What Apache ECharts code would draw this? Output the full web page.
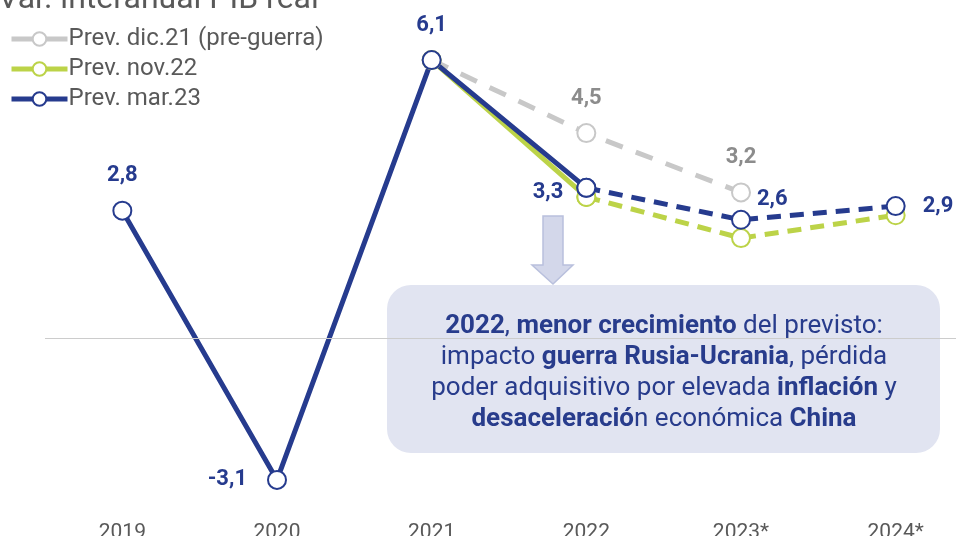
<!DOCTYPE html>
<html>
<head>
<meta charset="utf-8">
<script src="https://cdn.jsdelivr.net/npm/echarts@6/dist/echarts.min.js"></script>
<style>
html,body{margin:0;padding:0;background:#fff;}
#chart{width:956px;height:536px;}
</style>
</head>
<body>
<div id="chart"></div>
<script>
// ---- data ----
var categories = ['2019', '2020', '2021', '2022', '2023*', '2024*'];
var prevDic21 = [null, null, 6.1, 4.5, 3.2, null];   // Prev. dic.21 (pre-guerra)
var prevNov22 = [null, null, 6.1, 3.1, 2.2, 2.7];    // Prev. nov.22
var prevMar23 = [2.8, -3.1, 6.1, 3.3, 2.6, 2.9];     // Prev. mar.23
var seriesNames = ['Prev. dic.21 (pre-guerra)', 'Prev. nov.22', 'Prev. mar.23'];
var forecastStart = 3; // index from which lines are dashed (2022)

// ---- styles ----
var BLUE = '#263b8e', GREEN = '#bcd348', GREY = '#c8c8c8', GREYTXT = '#8c8c8c', TXT = '#595959';
var FONT = 'Roboto';

function fmt(v) { return String(v).replace('.', ','); }

function part(arr, from, to) {
  return arr.map(function (v, i) { return (i >= from && i <= to) ? v : null; });
}

function withLabels(values, labelCfg) {
  return values.map(function (v, i) {
    if (v === null) return null;
    var item = { value: v };
    if (labelCfg[i]) item.label = Object.assign({ show: true }, labelCfg[i]);
    return item;
  });
}

var blueLabelStyle = { color: BLUE, fontWeight: 'bold', fontSize: 22, fontFamily: FONT,
  formatter: function (p) { return fmt(p.value); } };
var greyLabelStyle = { color: GREYTXT, fontWeight: 'bold', fontSize: 22, fontFamily: FONT,
  formatter: function (p) { return fmt(p.value); } };

var blueLabels = {
  0: { position: 'top', distance: 14 },
  1: { position: 'left', distance: 20 },
  2: { position: 'top', distance: 14 },
  3: { position: 'left', distance: 13, offset: [0, 5] }
};
var blueLabelsDash = {
  4: { position: 'right', distance: 6, offset: [0, -20] },
  5: { position: 'right', distance: 17 }
};
var greyLabels = {
  3: { position: 'top', distance: 14 },
  4: { position: 'top', distance: 14 }
};

function lineSeries(name, data, color, dashed, labelStyle, markerBorder) {
  return {
    name: name,
    type: 'line',
    data: data,
    symbol: 'circle',
    symbolSize: 18,
    showAllSymbol: true,
    connectNulls: false,
    lineStyle: { color: color, width: 5, type: dashed ? dashed : 'solid', cap: 'butt' },
    itemStyle: { color: '#ffffff', borderColor: markerBorder || color, borderWidth: 2 },
    label: Object.assign({ show: false }, labelStyle || {}),
    emphasis: { disabled: true },
    animation: false
  };
}

var series = [
  lineSeries(seriesNames[0], withLabels(prevDic21, greyLabels), GREY, [18, 14], greyLabelStyle),
  lineSeries(seriesNames[1], part(prevNov22, 0, forecastStart), GREEN, null),
  lineSeries(seriesNames[1], part(prevNov22, forecastStart, 99), GREEN, [14, 9]),
  lineSeries(seriesNames[2], withLabels(part(prevMar23, 0, forecastStart), blueLabels), BLUE, null, blueLabelStyle),
  lineSeries(seriesNames[2], withLabels(part(prevMar23, forecastStart, 99), blueLabelsDash), BLUE, [14, 9], blueLabelStyle)
];
// zero line
series[0].markLine = {
  silent: true, symbol: 'none', animation: false,
  label: { show: false },
  lineStyle: { color: '#cccccc', width: 1, type: 'solid' },
  data: [{ yAxis: 0 }]
};
series[0].z = 3;

var chart = echarts.init(document.getElementById('chart'), null, { renderer: 'canvas' });
chart.setOption({
  backgroundColor: '#ffffff',
  animation: false,
  textStyle: { fontFamily: FONT },
  title: {
    text: 'Var. interanual PIB real',
    left: -2, top: -16, padding: 0,
    textStyle: { fontSize: 32, fontWeight: 'normal', color: TXT, fontFamily: FONT }
  },
  legend: {
    data: seriesNames,
    orient: 'vertical',
    left: 9, top: 27, padding: 0,
    itemWidth: 56, itemHeight: 17, itemGap: 6,
    textStyle: { fontSize: 24, color: TXT, fontFamily: FONT, padding: [0, 0, 0, -4] },
    lineStyle: { type: 'solid', width: 5 },
    selectedMode: false
  },
  grid: { left: 45, top: 19, width: 928, height: 502, containLabel: false, outerBoundsMode: 'none' },
  xAxis: {
    type: 'category',
    data: categories,
    boundaryGap: true,
    axisLine: { show: false },
    axisTick: { show: false },
    axisLabel: { fontSize: 21, color: TXT, fontFamily: FONT, margin: 1 }
  },
  yAxis: {
    type: 'value', min: -4, max: 7, interval: 1,
    show: false,
    splitLine: { show: false }
  },
  graphic: [
    {
      type: 'rect', z: 0,
      shape: { x: 387, y: 285, width: 553, height: 168, r: 24 },
      style: { fill: '#e1e4f1' }
    },
    {
      type: 'polygon', z: 0,
      shape: { points: [[543, 216], [563, 216], [563, 265], [573, 265], [553, 284], [532, 265], [543, 265]] },
      style: { fill: '#d3d7ea', stroke: '#b9c0dd', lineWidth: 1.5 }
    },
    {
      type: 'text', z: 5,
      x: 664, y: 373,
      style: {
        text: '{b|2022}{n|, }{b|menor crecimiento}{n| del previsto:}\n' +
              '{n|impacto }{b|guerra Rusia-Ucrania}{n|, pérdida}\n' +
              '{n|poder adquisitivo por elevada }{b|inflación}{n| y}\n' +
              '{b|desaceleració}{n|n económica }{b|China}',
        align: 'center', verticalAlign: 'middle',
        fill: '#283c8c', fontSize: 26, fontFamily: FONT, lineHeight: 31,
        rich: {
          b: { fontWeight: 'bold', fontSize: 26, fontFamily: FONT, fill: '#283c8c', lineHeight: 31 },
          n: { fontWeight: 'normal', fontSize: 26, fontFamily: FONT, fill: '#283c8c', lineHeight: 31 }
        }
      }
    }
  ],
  series: series
});
</script>
</body>
</html>
